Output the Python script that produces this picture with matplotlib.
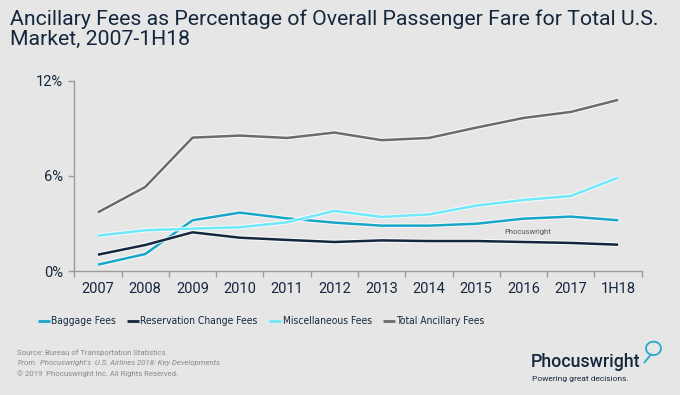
import matplotlib
matplotlib.use("Agg")
import matplotlib.pyplot as plt
import matplotlib.patheffects as pe
from matplotlib.ticker import FixedLocator, NullFormatter
from matplotlib.patches import Arc
from matplotlib.lines import Line2D

plt.rcParams['font.family'] = ['Roboto', 'DejaVu Sans']

years = ["2007", "2008", "2009", "2010", "2011", "2012", "2013", "2014", "2015", "2016", "2017", "1H18"]
baggage = [0.40, 1.07, 3.20, 3.68, 3.32, 3.05, 2.86, 2.86, 2.98, 3.30, 3.43, 3.20]
reservation = [1.03, 1.64, 2.44, 2.10, 1.96, 1.83, 1.93, 1.89, 1.89, 1.83, 1.77, 1.66]
misc = [2.23, 2.57, 2.67, 2.76, 3.07, 3.79, 3.41, 3.57, 4.12, 4.48, 4.73, 5.89]
total = [3.70, 5.30, 8.41, 8.54, 8.39, 8.73, 8.25, 8.39, 9.04, 9.65, 10.03, 10.79]
series_names = ["Baggage Fees", "Reservation Change Fees", "Miscellaneous Fees", "Total Ancillary Fees"]
yticks = [0, 6, 12]
ytick_labels = ["0%", "6%", "12%"]

BG = "#e6e6e6"
NAVY = "#15273d"
colors = ["#17a6c8", "#13263d", "#6fe8fa", "#6b6b6b"]

fig = plt.figure(figsize=(6.8, 3.95), dpi=100, facecolor=BG)
ax = fig.add_axes([0.1093, 0.3139, 0.9437 - 0.1093, 0.7957 - 0.3139])
ax.set_facecolor(BG)

x = list(range(len(years)))
handles = []
for vals, c, name in zip([baggage, reservation, misc, total], colors, series_names):
    ln, = ax.plot(x, vals, color=c, lw=1.8, label=name, solid_capstyle='butt',
                  path_effects=[pe.Stroke(linewidth=3.2, foreground='white', alpha=0.8), pe.Normal()])
    handles.append(ln)

ax.set_xlim(-0.5, len(years) - 0.5)
ax.set_ylim(0, 12)
for s in ["top", "right"]:
    ax.spines[s].set_visible(False)
for s in ["left", "bottom"]:
    ax.spines[s].set_color("#9a9a9a")
    ax.spines[s].set_linewidth(1.0)

ax.set_yticks(yticks)
ax.set_yticklabels(ytick_labels)
ax.xaxis.set_major_locator(FixedLocator([i - 0.5 for i in range(len(years) + 1)]))
ax.xaxis.set_major_formatter(NullFormatter())
ax.xaxis.set_minor_locator(FixedLocator(x))
ax.set_xticklabels(years, minor=True)
ax.tick_params(axis='x', which='major', length=4, color="#9a9a9a", width=1)
ax.tick_params(axis='x', which='minor', length=0, pad=8, labelsize=10.5, labelcolor=NAVY)
ax.tick_params(axis='y', length=4, color="#9a9a9a", width=1, pad=4, labelsize=10.5, labelcolor=NAVY)

# watermark
ax.text(9.1, 2.45, "Phocuswright", fontsize=5.5, color="#555555", ha='center', va='center')

fig.text(0.0147, 0.975, "Ancillary Fees as Percentage of Overall Passenger Fare for Total U.S.\nMarket, 2007-1H18",
         fontsize=15.3, color=NAVY, ha='left', va='top', linespacing=1.05)

leg = fig.legend(handles=handles, labels=series_names, loc='center', bbox_to_anchor=(0.384, 0.187),
                 ncol=4, frameon=False, prop={'family': ['DejaVu Sans'], 'stretch': 'condensed', 'size': 7.4},
                 handlelength=1.2, handletextpad=0.1, columnspacing=1.1, labelcolor=NAVY)
for lh in leg.get_lines():
    lh.set_path_effects([])
    lh.set_linewidth(2)

foot_color = "#8a8a8a"
fs = 5.6
fig.text(0.025, 0.107, "Source: Bureau of Transportation Statistics", fontsize=fs, color=foot_color, va='center')
fig.text(0.025, 0.081, "From", fontsize=fs, color=foot_color, va='center')
fig.text(0.0585, 0.081, "Phocuswright's  U.S. Airlines 2018: Key Developments", fontsize=fs, color=foot_color,
         va='center', style='italic')
fig.text(0.025, 0.055, "\u00a9 2019  Phocuswright Inc. All Rights Reserved.", fontsize=fs, color=foot_color,
         va='center')

# logo
fig.text(0.781, 0.072, "Phocuswright", fontsize=12.8, color=NAVY, ha='left', va='baseline', weight='medium')
fig.text(0.782, 0.036, "Powering great decisions.", fontsize=6.0, color=NAVY, ha='left', va='baseline')
teal = "#2aa9c9"
fig.add_artist(Arc((0.961, 0.118), 0.022, 0.034, theta1=-110, theta2=250, color=teal, lw=1.3,
                   transform=fig.transFigure))
fig.add_artist(Line2D([0.957, 0.948], [0.102, 0.083], color=teal, lw=1.3, transform=fig.transFigure))

fig.savefig("out.png", dpi=100, facecolor=BG)
